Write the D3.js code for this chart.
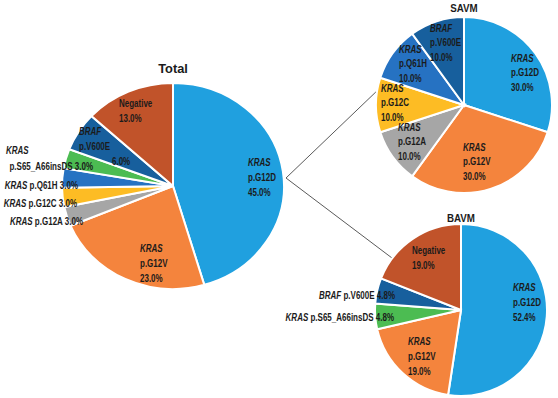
<!DOCTYPE html>
<html>
<head>
<meta charset="utf-8">
<script src="https://cdn.jsdelivr.net/npm/d3@7"></script>
<style>
  html, body { margin: 0; padding: 0; background: #ffffff; }
  svg { display: block; }
  text { font-family: "Liberation Sans", Arial, sans-serif; font-weight: bold; fill: #1b1b1b; }
</style>
</head>
<body>
<svg id="chart" width="558" height="398"></svg>
<script>
// ---------- data ----------
const totalGenes    = ["KRAS", "KRAS", "KRAS", "KRAS", "KRAS", "KRAS", "BRAF", ""];
const totalVariants = ["p.G12D", "p.G12V", "p.G12A", "p.G12C", "p.Q61H", "p.S65_A66insDS", "p.V600E", "Negative"];
const totalValues   = [45.0, 23.0, 3.0, 3.0, 3.0, 3.0, 6.0, 13.0];

const savmGenes    = ["KRAS", "KRAS", "KRAS", "KRAS", "KRAS", "BRAF"];
const savmVariants = ["p.G12D", "p.G12V", "p.G12A", "p.G12C", "p.Q61H", "p.V600E"];
const savmValues   = [30.0, 30.0, 10.0, 10.0, 10.0, 10.0];

const bavmGenes    = ["KRAS", "KRAS", "KRAS", "BRAF", ""];
const bavmVariants = ["p.G12D", "p.G12V", "p.S65_A66insDS", "p.V600E", "Negative"];
const bavmValues   = [52.4, 19.0, 4.8, 4.8, 19.0];

const chartTitles = ["Total", "SAVM", "BAVM"];

// ---------- styles ----------
const variantColors = {
  "p.G12D": "#20a0df",
  "p.G12V": "#f4843d",
  "p.G12A": "#a6a6a6",
  "p.G12C": "#fdbc24",
  "p.Q61H": "#2672c2",
  "p.S65_A66insDS": "#4cbc52",
  "p.V600E": "#175f9d",
  "Negative": "#c1532a"
};

// label layout per slice: offset from pie centre (first baseline), anchor, kind
const totalLabelLayout = [
  {dx: 75,   dy: -20.5, anchor: "start", kind: "stack"},
  {dx: -33,  dy: 65.5,  anchor: "start", kind: "stack"},
  {dx: -90,  dy: 38.5,  anchor: "end",   kind: "inline"},
  {dx: -96,  dy: 20.5,  anchor: "end",   kind: "inline"},
  {dx: -95,  dy: 2.5,   anchor: "end",   kind: "inline"},
  {dx: -167, dy: -32.5, anchor: "start", kind: "split", endX: -80},
  {dx: -94,  dy: -51.5, anchor: "start", kind: "shifted", shift: 33},
  {dx: -54,  dy: -79.5, anchor: "start", kind: "stack"}
];
const savmLabelLayout = [
  {dx: 47,  dy: -43.5, anchor: "start", kind: "stack"},
  {dx: -1,  dy: 45.5,  anchor: "start", kind: "stack"},
  {dx: -66, dy: 25.5,  anchor: "start", kind: "stack"},
  {dx: -83, dy: -13.5, anchor: "start", kind: "stack"},
  {dx: -65, dy: -52.5, anchor: "start", kind: "stack"},
  {dx: -34, dy: -73.5, anchor: "start", kind: "stack"}
];
const bavmLabelLayout = [
  {dx: 52,  dy: -19.5, anchor: "start", kind: "stack"},
  {dx: -53, dy: 34.5,  anchor: "start", kind: "stack"},
  {dx: -67, dy: 10.5,  anchor: "end",   kind: "inline"},
  {dx: -66, dy: -11.5, anchor: "end",   kind: "inline"},
  {dx: -49, dy: -56.5, anchor: "start", kind: "stack"}
];

const svg = d3.select("#chart");
const fmt = v => v.toFixed(1) + "%";
const FS = 10;       // label font size
const SX = 0.8;      // horizontal condensing of the label font

// write a (condensed) text made of parts [[string, italic], ...]
function label(parent, x, y, anchor, parts, size, sx) {
  const t = parent.append("g")
    .attr("transform", `translate(${x},${y}) scale(${sx},1)`)
    .append("text")
    .attr("text-anchor", anchor)
    .style("font-size", size + "px");
  parts.forEach(p => t.append("tspan").style("font-style", p[1] ? "italic" : "normal").text(p[0]));
  return t;
}

function drawPie(opts) {
  const {genes, variants, values, layout, cx, cy, rx, ry, title, titleY, titleSize, titleSX, lineH} = opts;
  const items = values.map((v, i) => ({gene: genes[i], variant: variants[i], value: v, lay: layout[i]}));
  const pie = d3.pie().sort(null).value(d => d.value);
  const arcs = pie(items);
  const arc = d3.arc().innerRadius(0).outerRadius(ry);

  const g = svg.append("g").attr("transform", `translate(${cx},${cy})`);
  g.append("g")
    .attr("transform", `scale(${rx / ry},1)`)
    .selectAll("path")
    .data(arcs)
    .join("path")
    .attr("d", arc)
    .attr("fill", d => variantColors[d.data.variant])
    .attr("stroke", "#ffffff")
    .attr("stroke-width", 2)
    .attr("vector-effect", "non-scaling-stroke");

  // title
  label(svg, cx, titleY, "middle", [[title, false]], titleSize, titleSX);

  // labels
  const lg = g.append("g");
  arcs.forEach(a => {
    const d = a.data, L = d.lay;
    const pct = fmt(d.value);
    if (L.kind === "stack") {
      const lines = d.gene ? [[d.gene, true], [d.variant, false], [pct, false]] : [[d.variant, false], [pct, false]];
      lines.forEach((ln, k) => label(lg, L.dx, L.dy + k * lineH, L.anchor, [ln], FS, SX));
    } else if (L.kind === "shifted") {
      label(lg, L.dx, L.dy, "start", [[d.gene, true]], FS, SX);
      label(lg, L.dx, L.dy + lineH, "start", [[d.variant, false]], FS, SX);
      label(lg, L.dx + L.shift, L.dy + 2 * lineH, "start", [[pct, false]], FS, SX);
    } else if (L.kind === "inline") {
      label(lg, L.dx, L.dy, L.anchor, [[d.gene, true], [" " + d.variant + " " + pct, false]], FS, SX);
    } else if (L.kind === "split") {
      label(lg, L.dx, L.dy, "start", [[d.gene, true]], FS, SX);
      label(lg, L.endX, L.dy + lineH * 1.1, "end", [[d.variant + " " + pct, false]], FS, SX);
    }
  });
}

// geometry
const T = {cx: 173, cy: 186, rx: 111, ry: 103};
const S = {cx: 464, cy: 105, r: 88};
const B = {cx: 461, cy: 310, r: 86};

// connector lines (drawn first, under pies)
const origin = [T.cx + T.rx + 2, T.cy - 8];
const polar = (c, r, deg) => [c.cx + r * Math.cos(deg * Math.PI / 180), c.cy + r * Math.sin(deg * Math.PI / 180)];
const endS = polar(S, S.r + 1, 188.5);
const endB = polar(B, B.r - 2, 217);
const conn = svg.append("g").attr("stroke", "#5a5a5a").attr("stroke-width", 1);
[endS, endB].forEach(e => conn.append("line")
  .attr("x1", origin[0]).attr("y1", origin[1]).attr("x2", e[0]).attr("y2", e[1]));

drawPie({genes: totalGenes, variants: totalVariants, values: totalValues, layout: totalLabelLayout,
  cx: T.cx, cy: T.cy, rx: T.rx, ry: T.ry, title: chartTitles[0], titleY: 73, titleSize: 13.5, titleSX: 0.95, lineH: 15});
drawPie({genes: savmGenes, variants: savmVariants, values: savmValues, layout: savmLabelLayout,
  cx: S.cx, cy: S.cy, rx: S.r, ry: S.r, title: chartTitles[1], titleY: 12, titleSize: 11.5, titleSX: 0.85, lineH: 14.5});
drawPie({genes: bavmGenes, variants: bavmVariants, values: bavmValues, layout: bavmLabelLayout,
  cx: B.cx, cy: B.cy, rx: B.r, ry: B.r, title: chartTitles[2], titleY: 222, titleSize: 11.5, titleSX: 0.85, lineH: 15});
</script>
</body>
</html>
